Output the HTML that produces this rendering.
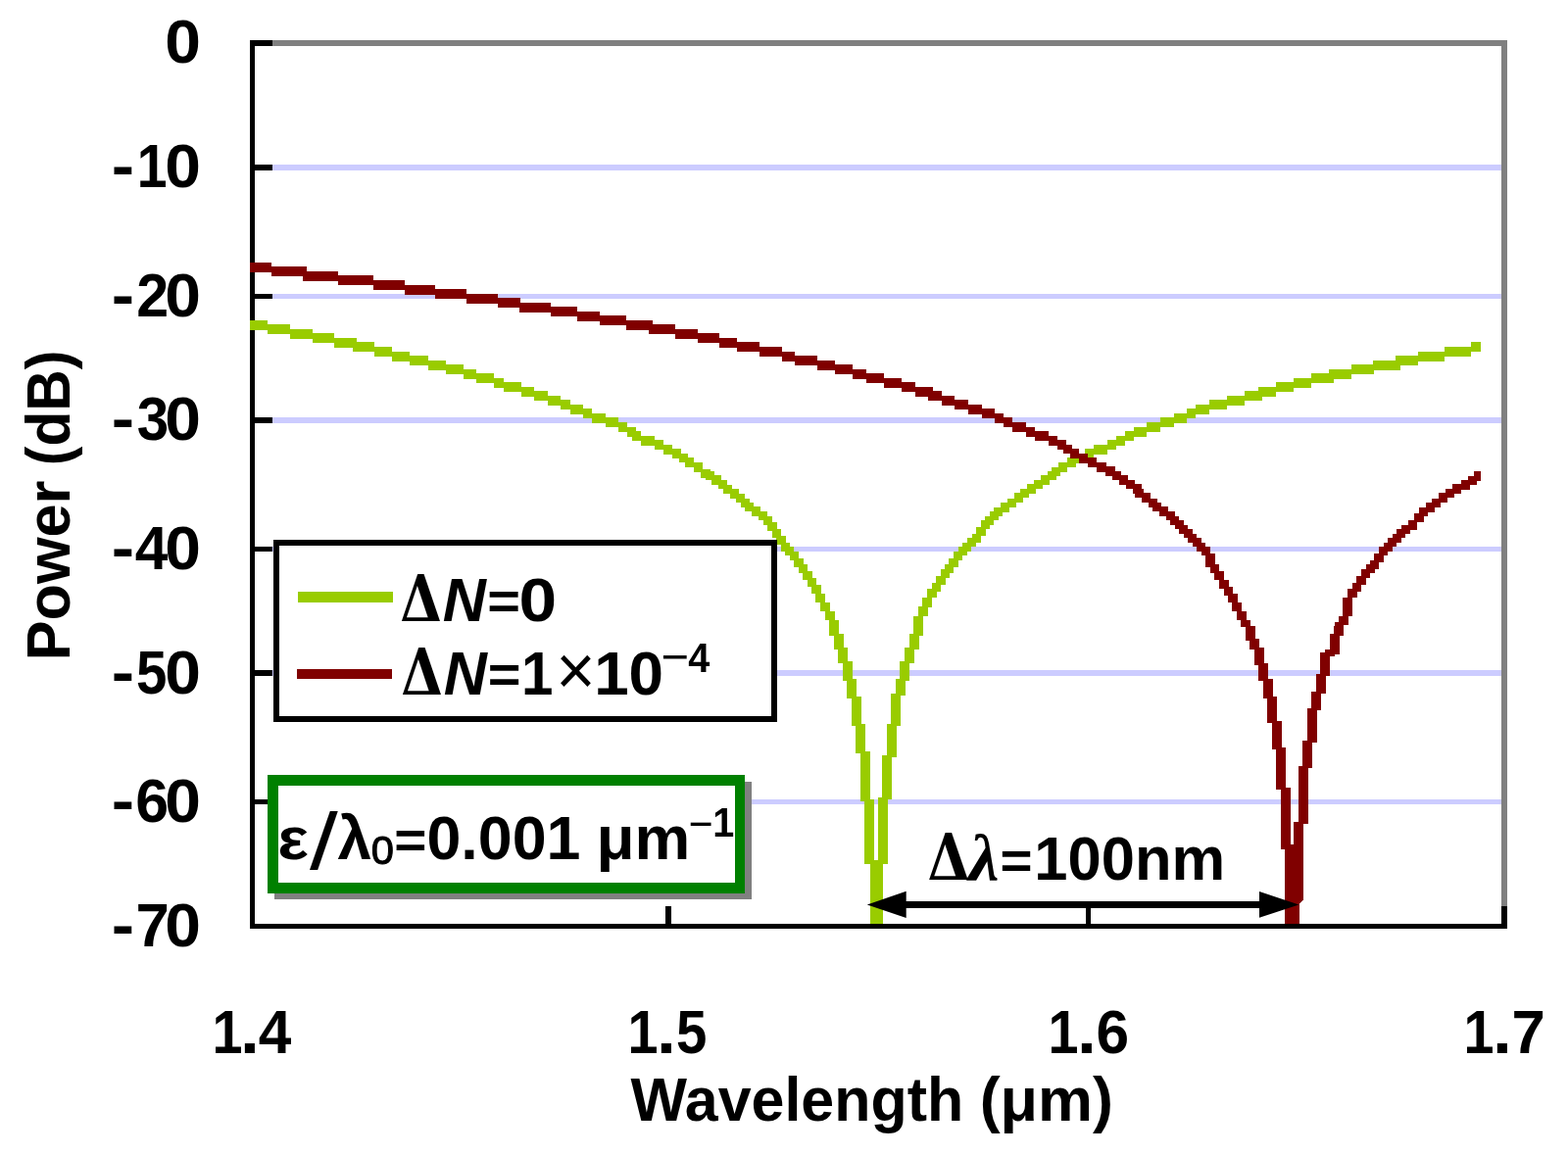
<!DOCTYPE html>
<html lang="en">
<head>
<meta charset="utf-8">
<title>Power vs. Wavelength</title>
<style>
html,body{margin:0;padding:0;background:#fff;}
body{width:1600px;height:1179px;overflow:hidden;font-family:"Liberation Sans",sans-serif;}
svg{display:block;}
</style>
</head>
<body>
<svg width="1600" height="1179" viewBox="0 0 1600 1179" role="img" aria-label="Power (dB) versus Wavelength (μm)">
<rect width="1600" height="1179" fill="#fff"/>
<g id="grid" fill="#ccccff" shape-rendering="crispEdges">
<rect x="278" y="168" width="1254" height="6"/>
<rect x="278" y="300" width="1254" height="5"/>
<rect x="278" y="426" width="1254" height="6"/>
<rect x="278" y="558" width="1254" height="5"/>
<rect x="278" y="684" width="1254" height="6"/>
<rect x="278" y="816" width="1254" height="5"/>
</g>
<g id="frame" shape-rendering="crispEdges">
<rect x="278" y="41" width="1260" height="6" fill="#808080"/>
<rect x="1532" y="41" width="6" height="884" fill="#808080"/>
<rect x="1532" y="925" width="6" height="23" fill="#000"/>
<rect x="255" y="41" width="5" height="907" fill="#000"/>
<rect x="255" y="943" width="1283" height="5" fill="#000"/>
<rect x="255" y="41" width="23" height="6" fill="#000"/>
<rect x="255" y="168" width="23" height="6" fill="#000"/>
<rect x="255" y="300" width="23" height="5" fill="#000"/>
<rect x="255" y="426" width="23" height="6" fill="#000"/>
<rect x="255" y="558" width="23" height="5" fill="#000"/>
<rect x="255" y="684" width="23" height="6" fill="#000"/>
<rect x="255" y="816" width="23" height="5" fill="#000"/>
<rect x="679" y="925" width="6" height="20" fill="#000"/>
<rect x="1108" y="925" width="5" height="20" fill="#000"/>
</g>
<defs><clipPath id="plotclip"><rect x="255" y="47" width="1277" height="896"/></clipPath></defs>
<g id="curves" stroke="none" shape-rendering="crispEdges" clip-path="url(#plotclip)">
<path fill="#99cc00" d="M255.0,326.7h18.4v10.0h-18.4zM273.4,331.3h22.7v10.0h-22.7zM296.0,335.8h22.7v10.0h-22.7zM318.7,340.3h22.7v10.0h-22.7zM341.4,344.9h22.7v10.0h-22.7zM359.5,349.4h22.7v10.0h-22.7zM382.1,353.9h18.1v10.0h-18.1zM400.2,358.5h18.1v10.0h-18.1zM418.4,363.0h18.1v10.0h-18.1zM436.5,367.5h18.1v10.0h-18.1zM454.6,372.0h18.1v10.0h-18.1zM472.7,376.6h13.6v10.0h-13.6zM486.3,381.1h18.1v10.0h-18.1zM504.4,385.6h9.1v10.0h-9.1zM513.5,390.2h18.1v10.0h-18.1zM531.6,394.7h13.6v10.0h-13.6zM545.2,399.2h13.6v10.0h-13.6zM558.8,403.8h13.6v10.0h-13.6zM572.4,408.3h9.1v10.0h-9.1zM581.5,412.8h13.6v10.0h-13.6zM595.0,417.4h9.1v10.0h-9.1zM604.1,421.9h13.6v10.0h-13.6zM617.7,426.4h13.6v10.0h-13.6zM631.3,430.9h9.1v10.0h-9.1zM640.3,435.5h9.1v10.0h-9.1zM644.9,440.0h9.1v10.0h-9.1zM653.9,444.5h13.6v10.0h-13.6zM667.5,449.1h9.1v10.0h-9.1zM676.6,453.6h9.1v10.0h-9.1zM685.6,458.1h9.1v10.0h-9.1zM692.5,463.2h9.0v9.0h-9.0zM699.2,467.2h9.1v10.0h-9.1zM708.3,471.7h9.1v10.0h-9.1zM714.6,479.0h10.0v9.1h-10.0zM719.7,481.3h9.0v9.0h-9.0zM726.4,485.3h9.1v10.0h-9.1zM733.2,490.3h9.0v9.0h-9.0zM737.8,494.9h9.0v9.0h-9.0zM744.5,498.9h9.1v10.0h-9.1zM751.4,503.9h9.0v9.0h-9.0zM755.9,508.5h9.0v9.0h-9.0zM760.4,513.0h9.0v9.0h-9.0zM767.2,517.0h9.1v10.0h-9.1zM774.0,522.0h9.0v9.0h-9.0zM778.5,526.6h9.0v9.0h-9.0zM782.6,533.3h10.0v9.1h-10.0zM787.6,540.2h9.0v9.0h-9.0zM791.6,546.9h10.0v9.1h-10.0zM796.7,553.8h9.0v9.0h-9.0zM801.2,558.3h9.0v9.0h-9.0zM805.7,562.8h9.0v9.0h-9.0zM809.8,569.6h10.0v9.1h-10.0zM814.8,576.4h9.0v9.0h-9.0zM818.8,583.2h10.0v9.1h-10.0zM823.8,590.0h9.0v9.0h-9.0zM827.9,596.8h10.0v9.1h-10.0zM832.4,605.8h10.0v9.1h-10.0zM836.9,614.9h10.0v9.1h-10.0zM841.5,623.9h10.0v9.1h-10.0zM846.0,633.0h10.0v7.0h-10.0zM932.1,628.5h10.0v11.5h-10.0zM936.6,619.4h10.0v9.1h-10.0zM941.1,610.4h10.0v9.1h-10.0zM945.7,601.3h10.0v9.1h-10.0zM950.7,594.5h9.0v9.0h-9.0zM954.7,587.7h10.0v9.1h-10.0zM959.8,580.9h9.0v9.0h-9.0zM964.3,576.4h9.0v9.0h-9.0zM968.3,569.6h10.0v9.1h-10.0zM973.3,562.8h9.0v9.0h-9.0zM977.9,558.3h9.0v9.0h-9.0zM982.4,553.8h9.0v9.0h-9.0zM986.9,549.2h9.0v9.0h-9.0zM991.5,544.7h9.0v9.0h-9.0zM995.5,537.9h10.0v9.1h-10.0zM1000.5,531.1h9.0v9.0h-9.0zM1005.1,526.6h9.0v9.0h-9.0zM1009.6,522.0h9.0v9.0h-9.0zM1014.1,517.5h9.0v9.0h-9.0zM1020.9,512.5h9.1v10.0h-9.1zM1027.7,508.5h9.0v9.0h-9.0zM1034.5,503.4h9.1v10.0h-9.1zM1041.3,499.4h9.0v9.0h-9.0zM1048.1,494.4h9.1v10.0h-9.1zM1054.9,490.3h9.0v9.0h-9.0zM1061.7,485.3h9.1v10.0h-9.1zM1068.5,481.3h9.0v9.0h-9.0zM1073.0,476.7h9.0v9.0h-9.0zM1079.8,471.7h9.1v10.0h-9.1zM1088.8,467.2h9.1v10.0h-9.1zM1097.9,462.7h9.1v10.0h-9.1zM1107.0,458.1h9.1v10.0h-9.1zM1116.0,453.6h13.6v10.0h-13.6zM1129.6,449.1h9.1v10.0h-9.1zM1138.7,444.5h9.1v10.0h-9.1zM1147.7,440.0h9.1v10.0h-9.1zM1156.8,435.5h13.6v10.0h-13.6zM1170.4,430.9h13.6v10.0h-13.6zM1184.0,426.4h13.6v10.0h-13.6zM1197.6,421.9h13.6v10.0h-13.6zM1211.1,417.4h9.1v10.0h-9.1zM1220.2,412.8h13.6v10.0h-13.6zM1233.8,408.3h18.1v10.0h-18.1zM1251.9,403.8h18.1v10.0h-18.1zM1270.0,399.2h18.1v10.0h-18.1zM1283.6,394.7h18.1v10.0h-18.1zM1301.8,390.2h18.1v10.0h-18.1zM1319.9,385.6h18.1v10.0h-18.1zM1338.0,381.1h22.7v10.0h-22.7zM1356.1,376.6h22.7v10.0h-22.7zM1378.8,372.0h22.7v10.0h-22.7zM1401.4,367.5h27.2v10.0h-27.2zM1424.1,363.0h22.7v10.0h-22.7zM1446.7,358.5h27.2v10.0h-27.2zM1473.9,353.9h27.2v10.0h-27.2zM1501.1,349.4h9.9v10.0h-9.9zM845.9,639.0h10.0v10.0h-10.0zM850.7,647.0h10.0v16.4h-10.0zM855.1,661.4h10.0v15.2h-10.0zM859.9,674.6h10.0v20.4h-10.0zM864.2,693.0h10.0v20.3h-10.0zM868.7,711.3h10.0v29.4h-10.0zM873.2,738.7h10.0v30.5h-10.0zM878.1,767.2h10.0v50.8h-10.0zM882.3,816.0h10.0v66.0h-10.0zM895.8,814.0h10.0v68.0h-10.0zM900.1,771.3h10.0v44.7h-10.0zM905.0,738.7h10.0v34.6h-10.0zM909.4,708.2h10.0v32.5h-10.0zM914.1,693.0h10.0v17.2h-10.0zM918.2,674.6h10.0v20.4h-10.0zM922.8,661.4h10.0v15.2h-10.0zM927.6,647.0h10.0v16.4h-10.0zM932.4,639.0h10.0v10.0h-10.0z"/>
<rect x="887.6" y="878" width="13.1" height="66" fill="#99cc00"/>
<path fill="#800000" d="M255.0,267.9h21.7v10.0h-21.7zM276.7,272.4h36.2v10.0h-36.2zM308.5,276.9h36.2v10.0h-36.2zM344.7,281.4h36.2v10.0h-36.2zM380.9,286.0h31.7v10.0h-31.7zM412.7,290.5h31.7v10.0h-31.7zM444.4,295.0h31.7v10.0h-31.7zM476.1,299.6h31.7v10.0h-31.7zM507.8,304.1h22.7v10.0h-22.7zM530.4,308.6h31.7v10.0h-31.7zM562.2,313.2h27.2v10.0h-27.2zM589.3,317.7h22.7v10.0h-22.7zM612.0,322.2h27.2v10.0h-27.2zM639.2,326.7h27.2v10.0h-27.2zM661.8,331.3h27.2v10.0h-27.2zM689.0,335.8h22.7v10.0h-22.7zM711.6,340.3h22.7v10.0h-22.7zM734.3,344.9h18.1v10.0h-18.1zM752.4,349.4h22.7v10.0h-22.7zM775.1,353.9h22.7v10.0h-22.7zM797.7,358.5h13.6v10.0h-13.6zM811.3,363.0h22.7v10.0h-22.7zM834.0,367.5h18.1v10.0h-18.1zM852.1,372.0h18.1v10.0h-18.1zM870.2,376.6h13.6v10.0h-13.6zM883.8,381.1h18.1v10.0h-18.1zM901.9,385.6h18.1v10.0h-18.1zM920.0,390.2h13.6v10.0h-13.6zM933.6,394.7h18.1v10.0h-18.1zM947.2,399.2h13.6v10.0h-13.6zM960.8,403.8h13.6v10.0h-13.6zM974.4,408.3h13.6v10.0h-13.6zM988.0,412.8h13.6v10.0h-13.6zM1001.6,417.4h13.6v10.0h-13.6zM1015.2,421.9h9.1v10.0h-9.1zM1024.2,426.4h9.1v10.0h-9.1zM1033.3,430.9h13.6v10.0h-13.6zM1046.9,435.5h9.1v10.0h-9.1zM1055.9,440.0h13.6v10.0h-13.6zM1069.5,444.5h9.1v10.0h-9.1zM1078.6,449.1h9.1v10.0h-9.1zM1085.4,454.1h9.0v9.0h-9.0zM1092.2,458.1h9.1v10.0h-9.1zM1101.2,462.7h9.1v10.0h-9.1zM1110.3,467.2h9.1v10.0h-9.1zM1119.4,471.7h9.1v10.0h-9.1zM1128.4,476.2h9.1v10.0h-9.1zM1135.3,481.3h9.0v9.0h-9.0zM1142.0,485.3h9.1v10.0h-9.1zM1148.8,490.3h9.0v9.0h-9.0zM1155.6,494.4h9.1v10.0h-9.1zM1157.9,499.4h9.0v9.0h-9.0zM1164.7,503.4h9.1v10.0h-9.1zM1171.5,508.5h9.0v9.0h-9.0zM1176.0,513.0h9.0v9.0h-9.0zM1182.8,517.0h9.1v10.0h-9.1zM1189.6,522.0h9.0v9.0h-9.0zM1194.1,526.6h9.0v9.0h-9.0zM1198.7,531.1h9.0v9.0h-9.0zM1203.2,535.6h9.0v9.0h-9.0zM1207.7,540.2h9.0v9.0h-9.0zM1212.3,544.7h9.0v9.0h-9.0zM1216.8,549.2h9.0v9.0h-9.0zM1221.3,553.8h9.0v9.0h-9.0zM1225.9,558.3h9.0v9.0h-9.0zM1229.9,565.1h10.0v13.6h-10.0zM1234.9,576.4h9.0v9.0h-9.0zM1238.9,583.2h10.0v9.1h-10.0zM1243.5,592.2h10.0v9.1h-10.0zM1248.5,599.1h9.0v9.0h-9.0zM1252.5,605.8h10.0v9.1h-10.0zM1257.1,614.9h10.0v9.1h-10.0zM1261.6,623.9h10.0v9.1h-10.0zM1266.1,633.0h10.0v7.0h-10.0zM1361.8,635.3h9.0v9.0h-9.0zM1365.8,628.5h10.0v9.1h-10.0zM1370.3,610.4h10.0v18.1h-10.0zM1374.9,601.3h10.0v9.1h-10.0zM1379.9,594.5h9.0v9.0h-9.0zM1383.9,587.7h10.0v9.1h-10.0zM1388.9,580.9h9.0v9.0h-9.0zM1393.5,576.4h9.0v9.0h-9.0zM1398.0,571.9h9.0v9.0h-9.0zM1402.0,565.1h10.0v9.1h-10.0zM1407.1,558.3h9.0v9.0h-9.0zM1411.6,553.8h9.0v9.0h-9.0zM1416.1,549.2h9.0v9.0h-9.0zM1420.7,544.7h9.0v9.0h-9.0zM1425.2,540.2h9.0v9.0h-9.0zM1429.7,535.6h9.0v9.0h-9.0zM1436.5,530.6h9.1v10.0h-9.1zM1442.8,524.3h10.0v9.1h-10.0zM1447.8,517.5h9.0v9.0h-9.0zM1454.6,512.5h9.1v10.0h-9.1zM1461.4,508.5h9.0v9.0h-9.0zM1468.2,503.4h9.1v10.0h-9.1zM1475.0,499.4h9.0v9.0h-9.0zM1481.8,494.4h9.1v10.0h-9.1zM1490.8,489.8h9.1v10.0h-9.1zM1497.7,485.8h9.0v9.0h-9.0zM1504.4,480.8h6.6v10.0h-6.6zM1270.9,639.0h10.0v15.2h-10.0zM1275.4,652.2h10.0v11.2h-10.0zM1280.1,661.4h10.0v17.3h-10.0zM1284.2,676.7h10.0v18.3h-10.0zM1289.1,693.0h10.0v20.3h-10.0zM1293.0,711.3h10.0v26.4h-10.0zM1298.2,735.7h10.0v29.5h-10.0zM1302.1,763.2h10.0v42.8h-10.0zM1307.3,804.0h10.0v63.0h-10.0zM1320.0,838.5h10.0v28.5h-10.0zM1325.1,781.5h10.0v59.0h-10.0zM1329.4,756.0h10.0v27.5h-10.0zM1334.2,722.5h10.0v35.5h-10.0zM1338.3,706.2h10.0v18.3h-10.0zM1343.2,687.9h10.0v20.3h-10.0zM1347.3,665.5h10.0v24.4h-10.0zM1352.0,663.0h10.0v7.0h-10.0zM1356.6,647.1h10.0v20.4h-10.0zM1361.3,639.0h10.0v10.1h-10.0z"/>
<path fill="#800000" d="M1311,862 L1329.7,862 L1329.7,919 L1325.8,923 L1325.8,944 L1311,944 Z"/>
</g>
<g id="legend" shape-rendering="crispEdges">
<rect x="282" y="554" width="508" height="180" fill="#fff" stroke="#000" stroke-width="6"/>
<rect x="304" y="604" width="97" height="11" fill="#99cc00"/>
<rect x="303" y="683" width="97" height="10" fill="#800000"/>
</g>
<g id="note" shape-rendering="crispEdges">
<rect x="280" y="798" width="487" height="120" fill="#808080"/>
<rect x="273" y="791" width="487" height="121" fill="#008000"/>
<rect x="284" y="802" width="466" height="99" fill="#fff"/>
</g>
<g id="arrow" fill="#000">
<rect x="915" y="920" width="380" height="7"/>
<path d="M884.8,923.4 L924.7,909.8 L924.7,937 Z"/>
<path d="M1325.4,923.4 L1285,910 L1285,936.8 Z"/>
</g>
<g id="labels" font-family="Liberation Sans, sans-serif" font-weight="bold" fill="#000">
<text><tspan x="168.36" y="64.00" font-size="63.60" textLength="36.69" lengthAdjust="spacingAndGlyphs">0</tspan></text>
<text><tspan x="113.70" y="190.50" font-size="62.50" textLength="23.32" lengthAdjust="spacingAndGlyphs">-</tspan><tspan x="139.68" y="191.00" font-size="63.60" textLength="30.77" lengthAdjust="spacingAndGlyphs">1</tspan><tspan x="168.36" y="191.00" font-size="63.60" textLength="36.69" lengthAdjust="spacingAndGlyphs">0</tspan></text>
<text><tspan x="113.70" y="322.50" font-size="62.50" textLength="23.32" lengthAdjust="spacingAndGlyphs">-</tspan><tspan x="139.22" y="323.00" font-size="63.60" textLength="32.92" lengthAdjust="spacingAndGlyphs">2</tspan><tspan x="168.36" y="323.00" font-size="63.60" textLength="36.69" lengthAdjust="spacingAndGlyphs">0</tspan></text>
<text><tspan x="113.70" y="448.50" font-size="62.50" textLength="23.32" lengthAdjust="spacingAndGlyphs">-</tspan><tspan x="139.63" y="449.00" font-size="63.60" textLength="32.48" lengthAdjust="spacingAndGlyphs">3</tspan><tspan x="168.36" y="449.00" font-size="63.60" textLength="36.69" lengthAdjust="spacingAndGlyphs">0</tspan></text>
<text><tspan x="113.70" y="580.50" font-size="62.50" textLength="23.32" lengthAdjust="spacingAndGlyphs">-</tspan><tspan x="137.79" y="581.00" font-size="63.60" textLength="33.58" lengthAdjust="spacingAndGlyphs">4</tspan><tspan x="168.36" y="581.00" font-size="63.60" textLength="36.69" lengthAdjust="spacingAndGlyphs">0</tspan></text>
<text><tspan x="113.70" y="707.50" font-size="62.50" textLength="23.32" lengthAdjust="spacingAndGlyphs">-</tspan><tspan x="139.11" y="708.00" font-size="63.60" textLength="31.37" lengthAdjust="spacingAndGlyphs">5</tspan><tspan x="168.36" y="708.00" font-size="63.60" textLength="36.69" lengthAdjust="spacingAndGlyphs">0</tspan></text>
<text><tspan x="113.70" y="838.50" font-size="62.50" textLength="23.32" lengthAdjust="spacingAndGlyphs">-</tspan><tspan x="138.37" y="839.00" font-size="63.60" textLength="33.84" lengthAdjust="spacingAndGlyphs">6</tspan><tspan x="168.36" y="839.00" font-size="63.60" textLength="36.69" lengthAdjust="spacingAndGlyphs">0</tspan></text>
<text><tspan x="113.70" y="965.50" font-size="62.50" textLength="23.32" lengthAdjust="spacingAndGlyphs">-</tspan><tspan x="138.53" y="966.00" font-size="63.60" textLength="34.32" lengthAdjust="spacingAndGlyphs">7</tspan><tspan x="168.36" y="966.00" font-size="63.60" textLength="36.69" lengthAdjust="spacingAndGlyphs">0</tspan></text>
<text><tspan x="216.46" y="1075.00" font-size="63.60" textLength="31.01" lengthAdjust="spacingAndGlyphs">1</tspan><tspan x="245.00" y="1075.00" font-size="66.67" textLength="19.85" lengthAdjust="spacingAndGlyphs">.</tspan><tspan x="263.79" y="1075.00" font-size="63.60" textLength="33.58" lengthAdjust="spacingAndGlyphs">4</tspan></text>
<text><tspan x="640.46" y="1075.00" font-size="63.60" textLength="31.01" lengthAdjust="spacingAndGlyphs">1</tspan><tspan x="670.00" y="1075.00" font-size="66.67" textLength="19.85" lengthAdjust="spacingAndGlyphs">.</tspan><tspan x="690.11" y="1075.00" font-size="63.60" textLength="31.37" lengthAdjust="spacingAndGlyphs">5</tspan></text>
<text><tspan x="1069.46" y="1075.00" font-size="63.60" textLength="31.01" lengthAdjust="spacingAndGlyphs">1</tspan><tspan x="1099.00" y="1075.00" font-size="66.67" textLength="19.85" lengthAdjust="spacingAndGlyphs">.</tspan><tspan x="1118.58" y="1075.00" font-size="63.60" textLength="33.61" lengthAdjust="spacingAndGlyphs">6</tspan></text>
<text><tspan x="1493.46" y="1075.00" font-size="63.60" textLength="31.01" lengthAdjust="spacingAndGlyphs">1</tspan><tspan x="1523.00" y="1075.00" font-size="66.67" textLength="19.85" lengthAdjust="spacingAndGlyphs">.</tspan><tspan x="1542.53" y="1075.00" font-size="63.60" textLength="34.32" lengthAdjust="spacingAndGlyphs">7</tspan></text>
<text><tspan x="643.50" y="1144.00" font-size="63.60" textLength="339.65" lengthAdjust="spacingAndGlyphs">Wavelength</tspan><tspan> </tspan><tspan x="999.66" y="1144.00" font-size="63.60" textLength="136.30" lengthAdjust="spacingAndGlyphs">(μm)</tspan></text>
<text transform="rotate(-90)"><tspan x="-674.28" y="71.00" font-size="63.60" textLength="183.66" lengthAdjust="spacingAndGlyphs">Power</tspan><tspan> </tspan><tspan x="-475.14" y="71.00" font-size="63.60" textLength="117.42" lengthAdjust="spacingAndGlyphs">(dB)</tspan></text>
<text><tspan x="408.35" y="633.70" font-size="64.86" textLength="42.62" lengthAdjust="spacingAndGlyphs" font-family="DejaVu Serif, serif">Δ</tspan><tspan x="451.78" y="633.70" font-size="63.60" textLength="44.13" lengthAdjust="spacingAndGlyphs" font-style="italic">N</tspan><tspan x="497.29" y="632.24" font-size="53.16" textLength="33.76" lengthAdjust="spacingAndGlyphs">=</tspan><tspan x="529.63" y="634.00" font-size="63.60" textLength="38.58" lengthAdjust="spacingAndGlyphs">0</tspan></text>
<text><tspan x="409.35" y="708.50" font-size="64.58" textLength="42.62" lengthAdjust="spacingAndGlyphs" font-family="DejaVu Serif, serif">Δ</tspan><tspan x="452.78" y="708.50" font-size="63.60" textLength="44.13" lengthAdjust="spacingAndGlyphs" font-style="italic">N</tspan><tspan x="497.89" y="707.04" font-size="53.16" textLength="33.76" lengthAdjust="spacingAndGlyphs">=</tspan><tspan x="532.10" y="708.70" font-size="63.60" textLength="32.43" lengthAdjust="spacingAndGlyphs">1</tspan><tspan x="567.16" y="708.85" font-size="71.36" textLength="40.35" lengthAdjust="spacingAndGlyphs" font-weight="normal">×</tspan><tspan x="606.17" y="708.70" font-size="63.60" textLength="70.93" lengthAdjust="spacingAndGlyphs">10</tspan><tspan x="674.55" y="686.97" font-size="48.57" textLength="28.61" lengthAdjust="spacingAndGlyphs" font-weight="normal">−</tspan><tspan x="702.21" y="686.40" font-size="42.61" textLength="22.04" lengthAdjust="spacingAndGlyphs">4</tspan></text>
<text><tspan x="283.34" y="877.18" font-size="61.64" textLength="31.61" lengthAdjust="spacingAndGlyphs">ε</tspan><tspan x="316.00" y="887.00" font-size="82.19" textLength="28.79" lengthAdjust="spacingAndGlyphs" font-weight="normal">/</tspan><tspan x="344.38" y="877.20" font-size="62.40" textLength="34.63" lengthAdjust="spacingAndGlyphs">λ</tspan><tspan x="378.83" y="882.29" font-size="40.56" textLength="23.18" lengthAdjust="spacingAndGlyphs" font-weight="normal" stroke="#000" stroke-width="1">0</tspan><tspan x="402.33" y="875.64" font-size="53.16" textLength="33.17" lengthAdjust="spacingAndGlyphs">=</tspan><tspan x="435.49" y="877.00" font-size="63.60" textLength="156.92" lengthAdjust="spacingAndGlyphs">0.001</tspan><tspan> </tspan><tspan x="608.43" y="877.00" font-size="63.60" textLength="95.87" lengthAdjust="spacingAndGlyphs">μm</tspan><tspan x="702.66" y="856.74" font-size="47.14" textLength="25.03" lengthAdjust="spacingAndGlyphs" font-weight="normal">−</tspan><tspan x="727.23" y="854.40" font-size="42.61" textLength="22.01" lengthAdjust="spacingAndGlyphs">1</tspan></text>
<text><tspan x="946.44" y="897.80" font-size="65.14" textLength="43.06" lengthAdjust="spacingAndGlyphs" font-family="DejaVu Serif, serif">Δ</tspan><tspan x="988.60" y="898.90" font-size="68.57" textLength="31.07" lengthAdjust="spacingAndGlyphs" font-family="Liberation Serif, serif" font-style="italic">λ</tspan><tspan x="1020.64" y="896.54" font-size="53.16" textLength="33.06" lengthAdjust="spacingAndGlyphs">=</tspan><tspan x="1055.31" y="897.80" font-size="63.60" textLength="194.89" lengthAdjust="spacingAndGlyphs">100nm</tspan></text>
</g>
</svg>
</body>
</html>
